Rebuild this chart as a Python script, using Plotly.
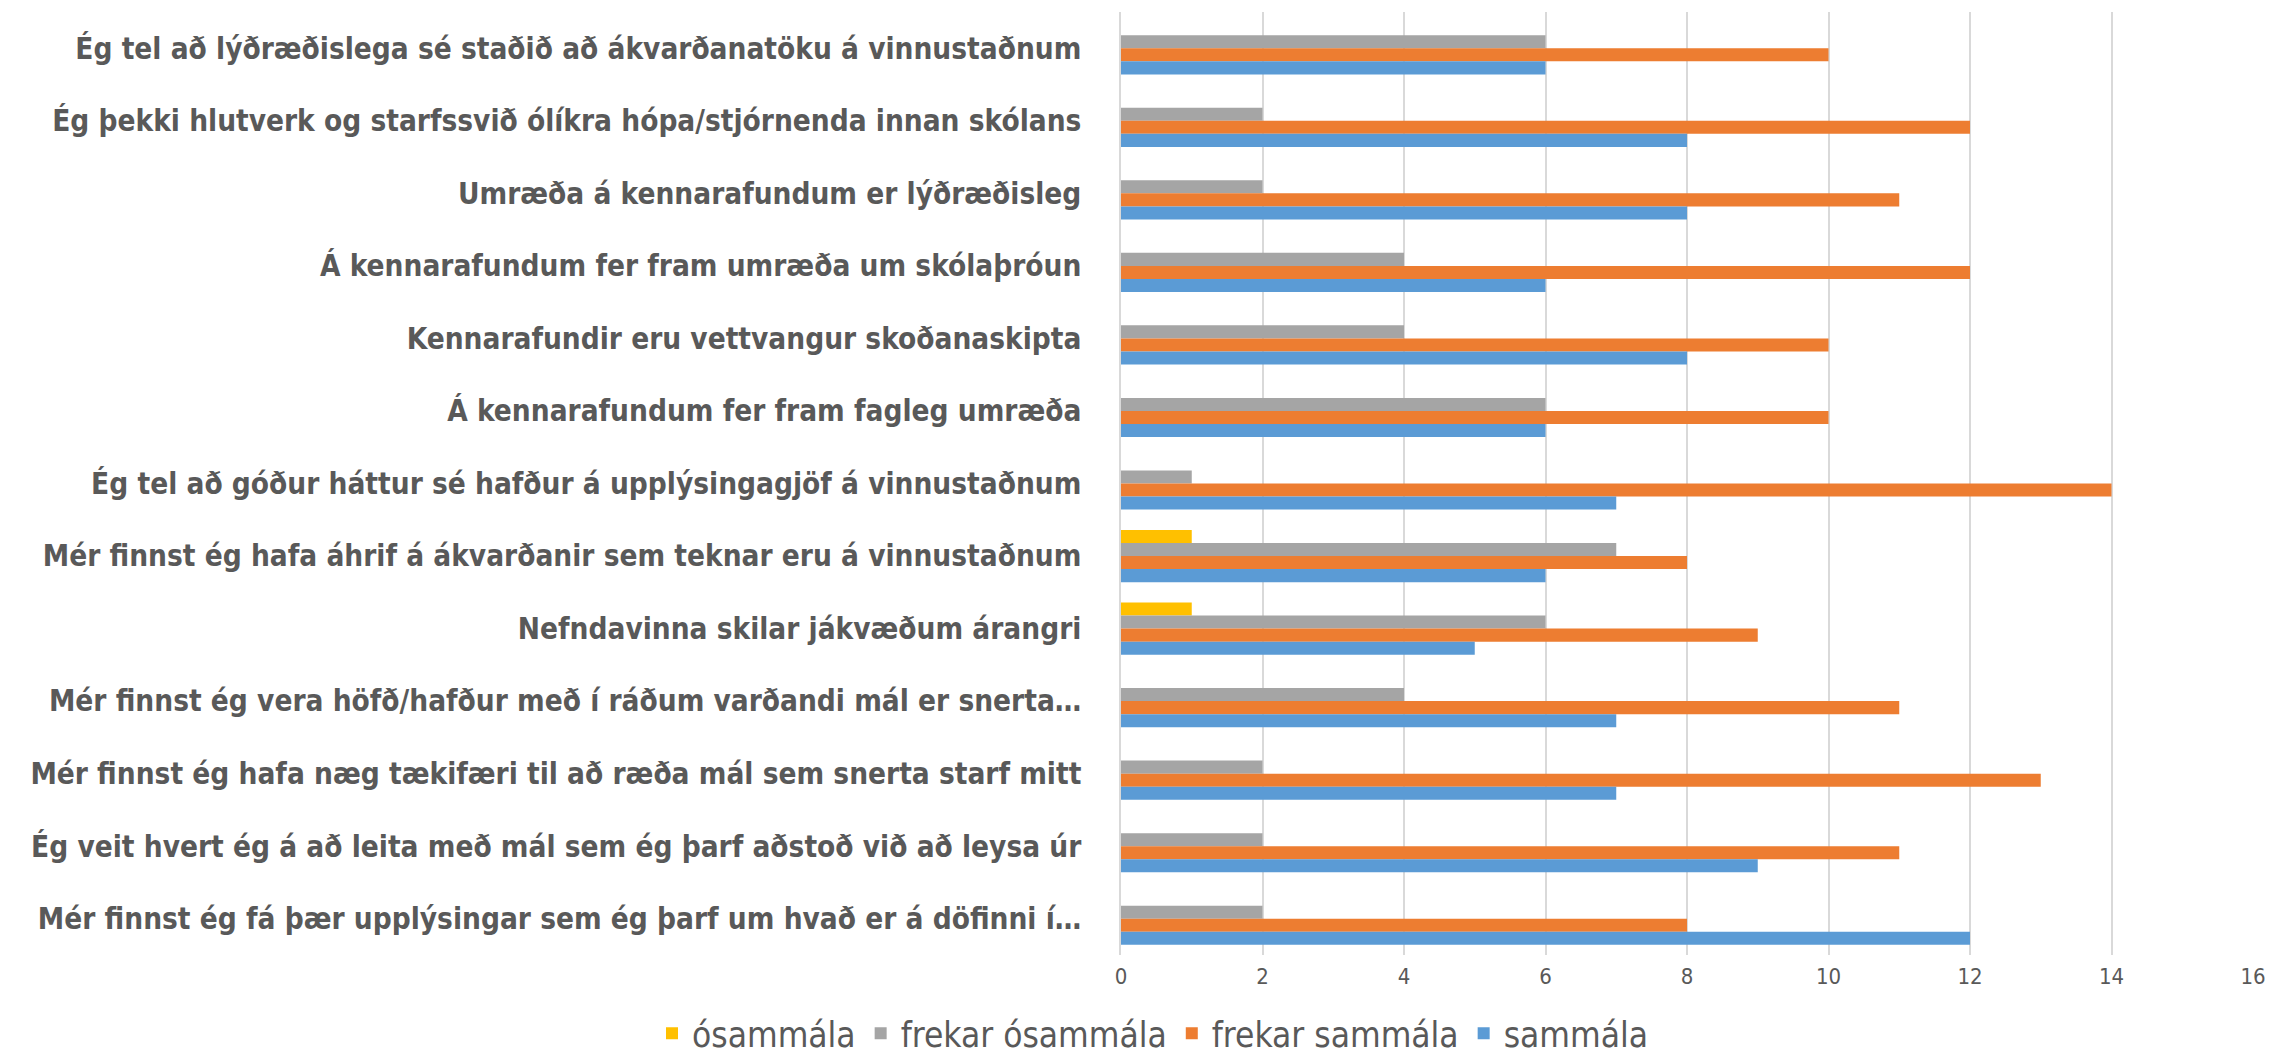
import plotly.graph_objects as go

statements = [
    "Ég tel að lýðræðislega sé staðið að ákvarðanatöku á vinnustaðnum",
    "Ég þekki hlutverk og starfssvið ólíkra hópa/stjórnenda innan skólans",
    "Umræða á kennarafundum er lýðræðisleg",
    "Á kennarafundum fer fram umræða um skólaþróun",
    "Kennarafundir eru vettvangur skoðanaskipta",
    "Á kennarafundum fer fram fagleg umræða",
    "Ég tel að góður háttur sé hafður á upplýsingagjöf á vinnustaðnum",
    "Mér finnst ég hafa áhrif á ákvarðanir sem teknar eru á vinnustaðnum",
    "Nefndavinna skilar jákvæðum árangri",
    "Mér finnst ég vera höfð/hafður með í ráðum varðandi mál er snerta…",
    "Mér finnst ég hafa næg tækifæri til að ræða mál sem snerta starf mitt",
    "Ég veit hvert ég á að leita með mál sem ég þarf aðstoð við að leysa úr",
    "Mér finnst ég fá þær upplýsingar sem ég þarf um hvað er á döfinni í…",
]

osammala = [0, 0, 0, 0, 0, 0, 0, 1, 1, 0, 0, 0, 0]
frekar_osammala = [6, 2, 2, 4, 4, 6, 1, 7, 6, 4, 2, 2, 2]
frekar_sammala = [10, 12, 11, 12, 10, 10, 14, 8, 9, 11, 13, 11, 8]
sammala = [6, 8, 8, 6, 8, 6, 7, 6, 5, 7, 7, 9, 12]

series = [
    ("ósammála", osammala, "#FFC000"),
    ("frekar ósammála", frekar_osammala, "#A5A5A5"),
    ("frekar sammála", frekar_sammala, "#ED7D31"),
    ("sammála", sammala, "#5B9BD5"),
]

font_family = "DejaVu Sans Condensed, Liberation Sans Narrow, Roboto, sans-serif"
text_color = "#595959"

fig = go.Figure()
for name, vals, color in series:
    fig.add_trace(go.Bar(
        y=statements, x=vals, name=name, orientation="h",
        marker=dict(color=color, line=dict(width=0)),
    ))

# plot area spans x 1113..2245, y 4..947 of the 2290x1055 page
fig.update_layout(
    barmode="group",
    bargap=0.28,
    bargroupgap=0,
    width=2290,
    height=1055,
    margin=dict(l=1113, r=45, t=4, b=108, autoexpand=False),
    paper_bgcolor="white",
    plot_bgcolor="white",
    font=dict(family=font_family, color=text_color),
    legend=dict(
        orientation="h", xref="container", yref="container",
        x=0.5, xanchor="center", y=-0.006, yanchor="bottom",
        font=dict(size=35, color=text_color), traceorder="normal",
        itemwidth=30,
    ),
    xaxis=dict(
        range=[0, 16], dtick=2, showgrid=True, gridcolor="#D9D9D9", gridwidth=1.5,
        zeroline=False, showline=False, ticks="",
        tickfont=dict(size=22, color=text_color), ticklabelstandoff=6,
    ),
    yaxis=dict(
        autorange="reversed", showgrid=False, showline=True, linecolor="#D9D9D9",
        linewidth=1.5, ticks="", ticklabelstandoff=32,
        tickfont=dict(size=29.5, color=text_color, weight="bold"),
    ),
)

fig.write_html("out.html")
